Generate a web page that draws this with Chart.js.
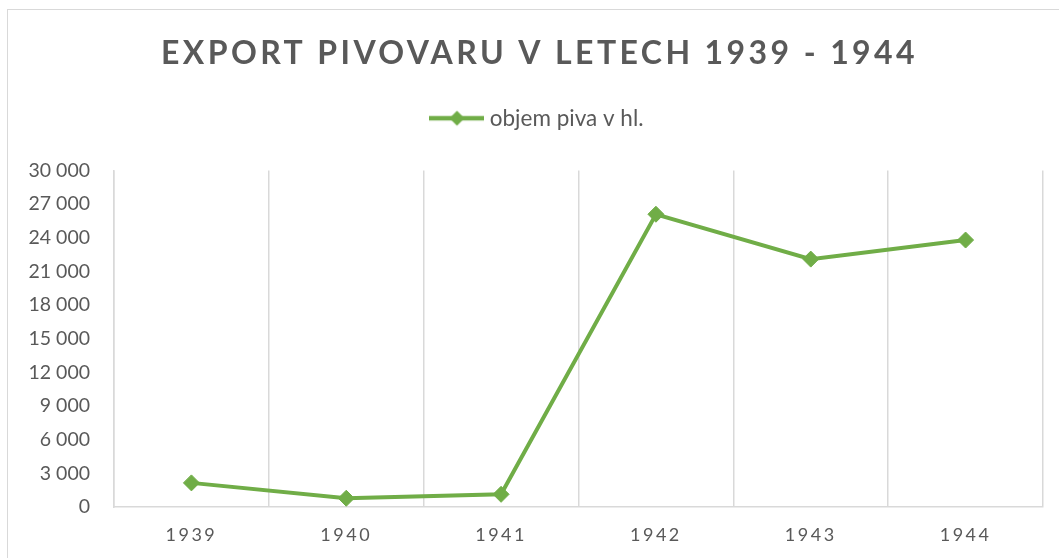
<!DOCTYPE html>
<html>
<head>
<meta charset="utf-8">
<script src="https://cdn.jsdelivr.net/npm/chart.js@4/dist/chart.umd.min.js"></script>
<style>
  body { margin: 0; background: #fff; }
  #frame { position: absolute; left: 7px; top: 9px; width: 1100px; height: 600px; border: 1px solid #d9d9d9; }
  #chart { position: absolute; left: 0; top: 0; }
</style>
</head>
<body>
<div id="frame"></div>
<canvas id="chart" width="1059" height="558"></canvas>
<script>
const years = ['1939', '1940', '1941', '1942', '1943', '1944'];
const volumes = [2150, 780, 1130, 26100, 22100, 23800];
const seriesName = 'objem piva v hl.';
const chartTitle = 'EXPORT PIVOVARU V LETECH 1939 - 1944';

const green = '#70AD47';
const grey = '#595959';
const gridGrey = '#d9d9d9';

// legend icon: line with a diamond in the middle
function legendIcon() {
    const c = document.createElement('canvas');
    c.width = 55;
    c.height = 20;
    const g = c.getContext('2d');
    g.strokeStyle = green;
    g.lineWidth = 4.5;
    g.beginPath();
    g.moveTo(0, 10);
    g.lineTo(55, 10);
    g.stroke();
    g.fillStyle = green;
    g.beginPath();
    g.moveTo(27.5 - 7.5, 10);
    g.lineTo(27.5, 2.5);
    g.lineTo(27.5 + 7.5, 10);
    g.lineTo(27.5, 17.5);
    g.closePath();
    g.fill();
    return c;
}

function spaced(fn, spacing) {
    return function (...args) {
        const ctx = this.ctx;
        ctx.save();
        ctx.letterSpacing = spacing;
        fn.apply(this, args);
        ctx.restore();
    };
}

const letterSpacingPlugin = {
    id: 'letterSpacing',
    beforeDraw(chart) {
        const t = chart.titleBlock;
        if (t && !t._spaced) {
            t.draw = spaced(t.draw, '3.4px');
            t._spaced = true;
        }
        const x = chart.scales.x;
        if (x && !x._spaced) {
            x.drawLabels = spaced(x.drawLabels, '2.5px');
            x._spaced = true;
        }
        // y labels hang out left of the narrow axis box, don't clip them
        const y = chart.scales.y;
        if (y) y._computeLabelArea = () => undefined;
    }
};

function formatThousands(v) {
    return String(v).replace(/\B(?=(\d{3})+(?!\d))/g, ' ');
}

Chart.defaults.font.family = 'Lato';
Chart.defaults.color = grey;

const ctx = document.getElementById('chart').getContext('2d');
new Chart(ctx, {
    type: 'line',
    data: {
        labels: years,
        datasets: [{
            label: seriesName,
            data: volumes,
            borderColor: green,
            backgroundColor: green,
            borderWidth: 4,
            pointStyle: 'rectRot',
            pointRadius: 8,
            pointBorderWidth: 1,
            pointBackgroundColor: green,
            pointBorderColor: green,
            tension: 0
        }]
    },
    options: {
        responsive: false,
        animation: false,
        events: [],
        layout: { padding: { left: 36, right: 16, top: 0, bottom: 0 } },
        plugins: {
            title: {
                display: true,
                text: chartTitle,
                color: grey,
                font: { size: 32, weight: 'bold', family: 'Lato' },
                padding: { top: 34, bottom: 24.6 }
            },
            legend: {
                display: true,
                position: 'top',
                labels: {
                    usePointStyle: true,
                    pointStyle: legendIcon(),
                    pointStyleWidth: 43,
                    padding: 10,
                    color: grey,
                    font: { size: 22.5, family: 'Lato' }
                }
            },
            tooltip: { enabled: false }
        },
        scales: {
            x: {
                offset: true,
                grid: { display: true, offset: true, color: gridGrey, lineWidth: 1.5, drawTicks: false },
                border: { display: true, color: gridGrey, width: 1.5 },
                ticks: { color: grey, padding: 17, font: { size: 18 } },
                afterFit(s) { s.height = 51; }
            },
            top: {
                type: 'category',
                position: 'top',
                grid: { display: false },
                border: { display: false },
                ticks: { display: false },
                afterFit(s) { s.height = 31; }
            },
            y: {
                min: 0,
                max: 30000,
                grid: { display: false, drawTicks: false },
                border: { display: true, color: gridGrey, width: 1.5 },
                ticks: {
                    stepSize: 3000,
                    padding: 24,
                    color: grey,
                    font: { size: 19.5 },
                    callback: v => formatThousands(v)
                },
                afterFit(s) { s.width = 78; }
            }
        }
    },
    plugins: [letterSpacingPlugin]
});
</script>
</body>
</html>
